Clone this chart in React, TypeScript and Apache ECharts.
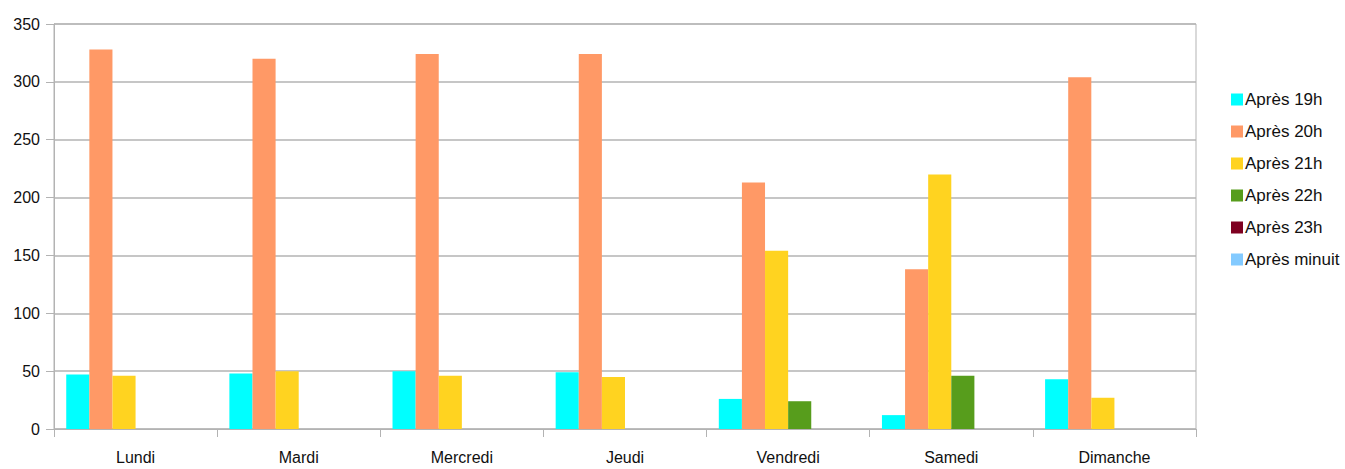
import React, { useEffect, useRef } from "react";
import * as echarts from "echarts";

const categories = ["Lundi", "Mardi", "Mercredi", "Jeudi", "Vendredi", "Samedi", "Dimanche"];
const seriesNames = ["Après 19h", "Après 20h", "Après 21h", "Après 22h", "Après 23h", "Après minuit"];
const apres19h = [47, 48, 50, 49, 26, 12, 43];
const apres20h = [328, 320, 324, 324, 213, 138, 304];
const apres21h = [46, 50, 46, 45, 154, 220, 27];
const apres22h = [0, 0, 0, 0, 24, 46, 0];
const apres23h = [0, 0, 0, 0, 0, 0, 0];
const apresMinuit = [0, 0, 0, 0, 0, 0, 0];
const colors = ["#00ffff", "#ff9966", "#ffd320", "#579d1c", "#7e0021", "#83caff"];

const FONT = "'Liberation Sans', Arial, sans-serif";

export default function App() {
  const ref = useRef<HTMLDivElement>(null);
  useEffect(() => {
    if (!ref.current) return;
    const chart = echarts.init(ref.current, null, { renderer: "svg" });
    const data = [apres19h, apres20h, apres21h, apres22h, apres23h, apresMinuit];
    chart.setOption({
      animation: false,
      color: colors,
      textStyle: { fontFamily: FONT },
      grid: {
        left: 54,
        right: 149,
        top: 24,
        bottom: 40,
        show: true,
        borderColor: "#b3b3b3",
        borderWidth: 1,
      },
      legend: {
        orient: "vertical",
        left: 1226,
        top: 86,
        itemWidth: 12,
        itemHeight: 12,
        itemGap: 15,
        icon: "rect",
        textStyle: { fontFamily: FONT, fontSize: 17, color: "#111111", padding: [0, 0, 0, -3] },
        data: seriesNames,
      },
      xAxis: {
        type: "category",
        data: categories,
        axisLine: { lineStyle: { color: "#b3b3b3", width: 1 } },
        axisTick: { show: true, length: 8, alignWithLabel: false, lineStyle: { color: "#b3b3b3" } },
        axisLabel: { fontFamily: FONT, fontSize: 16, color: "#111111", margin: 20 },
      },
      yAxis: {
        type: "value",
        min: 0,
        max: 350,
        interval: 50,
        axisLine: { show: true, lineStyle: { color: "#b3b3b3", width: 1 } },
        axisTick: { show: true, length: 8, lineStyle: { color: "#b3b3b3" } },
        axisLabel: { fontFamily: FONT, fontSize: 16, color: "#111111", margin: 14 },
        splitLine: { lineStyle: { color: "#b3b3b3", width: 1.5 } },
      },
      series: seriesNames.map((name, i) => ({
        name,
        type: "bar",
        data: data[i],
        barGap: "0%",
        barCategoryGap: "15%",
        itemStyle: { color: colors[i] },
      })),
    });
    return () => chart.dispose();
  }, []);
  return (
    <div
      ref={ref}
      style={{ position: "absolute", left: 0, top: 0, width: 1345, height: 469 }}
    />
  );
}
